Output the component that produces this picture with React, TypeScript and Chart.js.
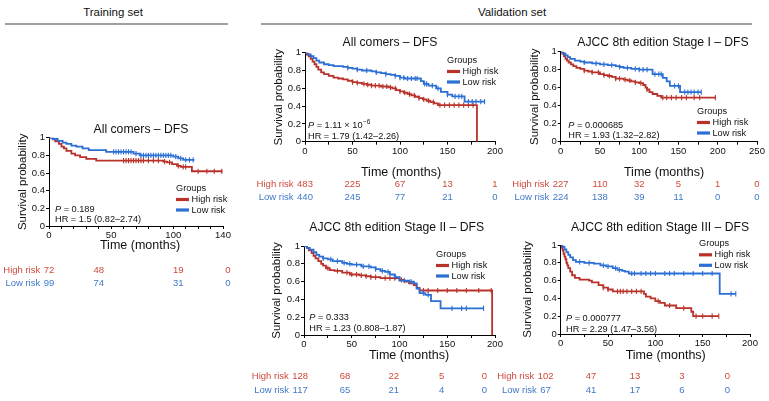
import React, { useEffect, useRef } from 'react';
import { Chart, registerables } from 'chart.js';

Chart.register(...registerables);

type Step = [number, number];

const FONT = '"Liberation Sans", Arial, Helvetica, sans-serif';
const RED = '#b8322a';
const BLUE = '#2b6fd4';
const RED_TXT = '#d04a3c';
const BLUE_TXT = '#4079c8';

// ---------- tick labels ----------
const yTicks = [0, 0.2, 0.4, 0.6, 0.8, 1];
const xTicksTrain = [0, 50, 100, 140];
const xMarksTrain = [0, 10, 20, 30, 40, 50, 60, 70, 80, 90, 100, 110, 120, 130, 140];
const xTicks200 = [0, 50, 100, 150, 200];
const xMarks200 = [0, 25, 50, 75, 100, 125, 150, 175, 200];
const xTicks250 = [0, 50, 100, 150, 200, 250];
const xMarks250 = [0, 25, 50, 75, 100, 125, 150, 175, 200, 225, 250];

// ---------- Training set: All comers ----------
const trainHigh: Step[] = [[0, 1], [3, 0.98], [5, 0.96], [8, 0.93], [10, 0.9], [12, 0.88], [14, 0.85], [18, 0.82], [21, 0.8], [25, 0.78], [30, 0.76], [38, 0.74], [92, 0.73], [95, 0.72], [99, 0.7], [103, 0.68], [106, 0.67], [115, 0.62], [139.5, 0.62]];
const trainHighCens = [60, 62, 64, 66, 68, 70, 72, 74, 76, 80, 84, 88, 93, 97, 104, 108, 110, 120, 127, 133, 139];
const trainLow: Step[] = [[0, 1], [3, 0.985], [7, 0.965], [11, 0.945], [14, 0.93], [18, 0.91], [22, 0.9], [27, 0.88], [32, 0.86], [46, 0.84], [68, 0.82], [73, 0.8], [100, 0.785], [104, 0.765], [108, 0.75], [117, 0.75]];
const trainLowCens = [52, 54, 56, 58, 60, 62, 64, 66, 70, 74, 76, 78, 80, 82, 84, 86, 88, 90, 92, 94, 96, 98, 102, 106, 110, 113, 116];
const trainRiskHigh = [72, 48, 19, 0];
const trainRiskLow = [99, 74, 31, 0];
const trainRiskAt = [0, 40, 104, 144];

// ---------- Validation: All comers ----------
const allHigh: Step[] = [[0, 1], [2, 0.98], [4, 0.96], [6, 0.93], [8, 0.9], [10, 0.87], [12, 0.84], [14, 0.81], [17, 0.78], [20, 0.76], [25, 0.74], [30, 0.72], [35, 0.71], [40, 0.7], [45, 0.685], [50, 0.67], [55, 0.66], [60, 0.65], [65, 0.64], [70, 0.63], [80, 0.62], [88, 0.61], [92, 0.6], [96, 0.58], [100, 0.565], [104, 0.55], [108, 0.535], [112, 0.52], [116, 0.505], [120, 0.49], [124, 0.475], [128, 0.46], [132, 0.445], [136, 0.43], [140, 0.41], [181, 0.41], [181, 0]];
const allHighCens = [50, 55, 62, 66, 70, 74, 78, 82, 86, 90, 95, 100, 105, 110, 115, 120, 125, 130, 135, 142, 147, 152, 157, 162, 167, 172, 177];
const allLow: Step[] = [[0, 1], [3, 0.98], [6, 0.96], [9, 0.94], [12, 0.91], [15, 0.89], [20, 0.87], [25, 0.86], [30, 0.85], [40, 0.84], [45, 0.83], [50, 0.82], [55, 0.81], [60, 0.8], [70, 0.79], [75, 0.78], [80, 0.77], [85, 0.76], [90, 0.75], [95, 0.74], [100, 0.72], [105, 0.71], [120, 0.71], [122, 0.68], [125, 0.65], [130, 0.63], [138, 0.6], [143, 0.56], [150, 0.53], [155, 0.51], [168, 0.45], [189, 0.45]];
const allLowCens = [45, 55, 65, 75, 85, 95, 100, 104, 108, 112, 116, 118, 126, 128, 134, 140, 150, 158, 162, 165, 172, 176, 180, 185, 189];
const allRiskHigh = [483, 225, 67, 13, 1];
const allRiskLow = [440, 245, 77, 21, 0];
const allRiskAt = [0, 50, 100, 150, 200];

// ---------- Validation: Stage I ----------
const s1High: Step[] = [[0, 1], [2, 0.98], [4, 0.95], [6, 0.92], [8, 0.9], [10, 0.88], [13, 0.86], [16, 0.84], [20, 0.82], [25, 0.81], [30, 0.79], [35, 0.78], [40, 0.77], [50, 0.75], [55, 0.74], [60, 0.73], [65, 0.72], [70, 0.7], [80, 0.69], [85, 0.68], [90, 0.67], [95, 0.66], [100, 0.65], [105, 0.63], [108, 0.6], [110, 0.58], [113, 0.55], [117, 0.53], [123, 0.51], [128, 0.49], [197, 0.49]];
const s1HighCens = [30, 40, 48, 55, 62, 70, 75, 82, 88, 95, 102, 110, 130, 135, 141, 147, 154, 160, 170, 177, 197];
const s1Low: Step[] = [[0, 1], [3, 0.98], [6, 0.96], [9, 0.94], [12, 0.92], [18, 0.9], [25, 0.89], [30, 0.88], [40, 0.87], [50, 0.86], [60, 0.85], [70, 0.84], [75, 0.83], [80, 0.82], [90, 0.81], [100, 0.8], [115, 0.8], [117, 0.75], [130, 0.71], [135, 0.67], [139, 0.62], [152, 0.55], [179, 0.55]];
const s1LowCens = [30, 45, 55, 65, 75, 85, 95, 100, 105, 110, 120, 125, 128, 145, 150, 158, 162, 166, 170, 175, 179];
const s1RiskHigh = [227, 110, 32, 5, 1, 0];
const s1RiskLow = [224, 138, 39, 11, 0, 0];
const s1RiskAt = [0, 50, 100, 150, 200, 250];

// ---------- Validation: Stage II ----------
const s2High: Step[] = [[0, 1], [3, 0.98], [5, 0.95], [8, 0.92], [10, 0.89], [12, 0.86], [15, 0.83], [18, 0.8], [20, 0.78], [23, 0.75], [27, 0.73], [32, 0.72], [40, 0.7], [48, 0.68], [58, 0.67], [65, 0.66], [70, 0.65], [80, 0.64], [95, 0.64], [100, 0.62], [105, 0.6], [110, 0.58], [115, 0.56], [118, 0.53], [121, 0.5], [197, 0.5], [197, 0]];
const s2HighCens = [25, 35, 45, 50, 55, 60, 65, 70, 75, 85, 90, 95, 102, 125, 130, 140, 150, 160, 170, 183, 196];
const s2Low: Step[] = [[0, 1], [3, 0.98], [6, 0.96], [10, 0.93], [13, 0.9], [16, 0.88], [20, 0.86], [25, 0.85], [30, 0.83], [40, 0.81], [45, 0.8], [50, 0.79], [60, 0.77], [70, 0.76], [75, 0.74], [80, 0.72], [85, 0.71], [90, 0.68], [95, 0.65], [100, 0.61], [110, 0.6], [115, 0.58], [118, 0.52], [121, 0.47], [127, 0.45], [133, 0.38], [143, 0.3], [188, 0.3]];
const s2LowCens = [20, 28, 35, 42, 48, 55, 62, 68, 75, 82, 88, 96, 105, 112, 125, 130, 155, 165, 170, 188];
const s2RiskHigh = [128, 68, 22, 5, 0];
const s2RiskLow = [117, 65, 21, 4, 0];
const s2RiskAt = [-4, 43, 94, 144, 189];

// ---------- Validation: Stage III ----------
const s3High: Step[] = [[0, 1], [1, 0.97], [2, 0.94], [3, 0.9], [4, 0.87], [5, 0.84], [6, 0.8], [7, 0.77], [8, 0.74], [10, 0.7], [12, 0.66], [15, 0.63], [20, 0.61], [30, 0.6], [33, 0.58], [40, 0.55], [45, 0.52], [50, 0.5], [55, 0.48], [86, 0.48], [88, 0.45], [90, 0.42], [95, 0.4], [100, 0.37], [105, 0.35], [110, 0.32], [122, 0.29], [138, 0.25], [140, 0.2], [167, 0.2]];
const s3HighCens = [45, 50, 60, 63, 66, 70, 75, 80, 85, 103, 115, 130, 143, 150, 160, 167];
const s3Low: Step[] = [[0, 1], [2, 0.98], [4, 0.95], [6, 0.92], [8, 0.89], [10, 0.86], [13, 0.83], [16, 0.81], [25, 0.8], [35, 0.79], [42, 0.77], [48, 0.76], [55, 0.74], [60, 0.72], [65, 0.71], [68, 0.7], [72, 0.68], [168, 0.45], [185, 0.45]];
const s3LowCens = [20, 30, 45, 50, 58, 62, 75, 78, 85, 90, 95, 100, 110, 115, 120, 130, 140, 150, 160, 180, 185];
const s3RiskHigh = [102, 47, 13, 3, 0];
const s3RiskLow = [67, 41, 17, 6, 0];
const s3RiskAt = [-16, 32, 78.5, 128, 176];

type Rect = { left: number; top: number; width: number; height: number };
type Area = { left: number; top: number; right: number; bottom: number };
type Panel = {
  key: string;
  canvas: Rect;
  area: Area;
  xMax: number;
  xTicks: number[];
  xMarks: number[];
  high: Step[]; highCens: number[];
  low: Step[]; lowCens: number[];
  riskHigh: number[]; riskLow: number[]; riskAt: number[];
  title: string; titleX: number; titleY: number;
  yTitleX: number; xTitleX: number; xTitleY: number;
  legX: number; legY: number;
  statX: number; statY: number;
  pVal: string; pExp?: string; hr: string;
  riskY1: number; riskY2: number;
};

const PANELS: Panel[] = [
  {
    key: 'train', canvas: { left: 0, top: 118, width: 240, height: 180 },
    area: { left: 49, top: 137.7, right: 223, bottom: 226 }, xMax: 140, xTicks: xTicksTrain, xMarks: xMarksTrain,
    high: trainHigh, highCens: trainHighCens, low: trainLow, lowCens: trainLowCens,
    riskHigh: trainRiskHigh, riskLow: trainRiskLow, riskAt: trainRiskAt,
    title: 'All comers – DFS', titleX: 141, titleY: 130,
    yTitleX: 22.5, xTitleX: 140, xTitleY: 246,
    legX: 176, legY: 188, statX: 55, statY: 209,
    pVal: ' = 0.189', hr: 'HR = 1.5 (0.82–2.74)', riskY1: 270, riskY2: 283,
  },
  {
    key: 'all', canvas: { left: 250, top: 28, width: 262, height: 180 },
    area: { left: 305, top: 52.7, right: 495, bottom: 141.7 }, xMax: 200, xTicks: xTicks200, xMarks: xMarks200,
    high: allHigh, highCens: allHighCens, low: allLow, lowCens: allLowCens,
    riskHigh: allRiskHigh, riskLow: allRiskLow, riskAt: allRiskAt,
    title: 'All comers – DFS', titleX: 390, titleY: 43,
    yTitleX: 279.3, xTitleX: 401, xTitleY: 173,
    legX: 447, legY: 60, statX: 308, statY: 125.7,
    pVal: ' = 1.11 × 10', pExp: '−6', hr: 'HR = 1.79 (1.42–2.26)', riskY1: 184, riskY2: 197,
  },
  {
    key: 's1', canvas: { left: 505, top: 28, width: 264, height: 180 },
    area: { left: 560.7, top: 51.7, right: 757, bottom: 141.7 }, xMax: 250, xTicks: xTicks250, xMarks: xMarks250,
    high: s1High, highCens: s1HighCens, low: s1Low, lowCens: s1LowCens,
    riskHigh: s1RiskHigh, riskLow: s1RiskLow, riskAt: s1RiskAt,
    title: 'AJCC 8th edition Stage I – DFS', titleX: 663, titleY: 43,
    yTitleX: 535, xTitleX: 664, xTitleY: 173,
    legX: 697, legY: 111, statX: 568.3, statY: 125,
    pVal: ' = 0.000685', hr: 'HR = 1.93 (1.32–2.82)', riskY1: 184, riskY2: 197,
  },
  {
    key: 's2', canvas: { left: 250, top: 215, width: 262, height: 186 },
    area: { left: 304, top: 246, right: 495, bottom: 335 }, xMax: 200, xTicks: xTicks200, xMarks: xMarks200,
    high: s2High, highCens: s2HighCens, low: s2Low, lowCens: s2LowCens,
    riskHigh: s2RiskHigh, riskLow: s2RiskLow, riskAt: s2RiskAt,
    title: 'AJCC 8th edition Stage II – DFS', titleX: 396.7, titleY: 228,
    yTitleX: 276.7, xTitleX: 409, xTitleY: 356,
    legX: 436, legY: 254, statX: 309.3, statY: 317.3,
    pVal: ' = 0.333', hr: 'HR = 1.23 (0.808–1.87)', riskY1: 376.7, riskY2: 390.7,
  },
  {
    key: 's3', canvas: { left: 495, top: 215, width: 274, height: 186 },
    area: { left: 560.7, top: 245, right: 750, bottom: 334 }, xMax: 200, xTicks: xTicks200, xMarks: xMarks200,
    high: s3High, highCens: s3HighCens, low: s3Low, lowCens: s3LowCens,
    riskHigh: s3RiskHigh, riskLow: s3RiskLow, riskAt: s3RiskAt,
    title: 'AJCC 8th edition Stage III – DFS', titleX: 660, titleY: 228,
    yTitleX: 528.3, xTitleX: 665.7, xTitleY: 356,
    legX: 699, legY: 243.3, statX: 566, statY: 318.3,
    pVal: ' = 0.000777', hr: 'HR = 2.29 (1.47–3.56)', riskY1: 376.7, riskY2: 390.7,
  },
];

function valueAt(steps: Step[], t: number): number {
  let v = steps[0][1];
  for (const [x, y] of steps) {
    if (x <= t) v = y;
    else break;
  }
  return v;
}

const f = (size: number, italic = false) => `${italic ? 'italic ' : ''}${size}px ${FONT}`;

function KMPanel({ p }: { p: Panel }) {
  const ref = useRef<HTMLCanvasElement>(null);
  useEffect(() => {
    const c = ref.current!;
    const ox = p.canvas.left;
    const oy = p.canvas.top;
    const xAxisH = 20;
    const yAxisW = p.area.left - ox;
    const padTop = p.area.top - oy;
    const padRight = ox + p.canvas.width - p.area.right;
    const padBottom = oy + p.canvas.height - p.area.bottom - xAxisH;

    const curve = (steps: Step[], color: string) => ({
      type: 'line',
      data: steps.map(([x, y]) => ({ x, y })),
      borderColor: color,
      backgroundColor: color,
      borderWidth: 1.8,
      pointRadius: 0,
      stepped: 'before',
      fill: false,
    });
    const cens = (steps: Step[], times: number[], color: string) => ({
      type: 'line',
      showLine: false,
      data: times.map((t) => ({ x: t, y: valueAt(steps, t) })),
      pointStyle: 'line',
      rotation: 90,
      pointRadius: 2.6,
      borderColor: color,
      backgroundColor: color,
      pointBorderWidth: 1.1,
      borderWidth: 1.1,
    });

    const textPlugin = {
      id: 'kmText_' + p.key,
      afterDraw(chart: any) {
        const ctx = chart.ctx as CanvasRenderingContext2D;
        const ca = chart.chartArea;
        const xs = chart.scales.x;
        const X = (v: number) => v - ox;
        const Y = (v: number) => v - oy;
        ctx.save();
        ctx.textBaseline = 'middle';
        ctx.fillStyle = '#111';
        // title
        ctx.font = f(12.2);
        ctx.textAlign = 'center';
        ctx.fillText(p.title, X(p.titleX), Y(p.titleY));
        // y title
        ctx.save();
        ctx.translate(X(p.yTitleX), (ca.top + ca.bottom) / 2);
        ctx.rotate(-Math.PI / 2);
        ctx.font = f(11.5);
        ctx.fillText('Survival probability', 0, 0);
        ctx.restore();
        // x title
        ctx.font = f(12.5);
        ctx.fillText('Time (months)', X(p.xTitleX), Y(p.xTitleY));
        // legend
        ctx.textAlign = 'left';
        ctx.font = f(9.2);
        ctx.fillStyle = '#111';
        ctx.fillText('Groups', X(p.legX), Y(p.legY));
        const rows: [string, string, number][] = [['High risk', RED, 11.5], ['Low risk', BLUE, 22]];
        for (const [lab, col, dy] of rows) {
          ctx.strokeStyle = col;
          ctx.lineWidth = 3.2;
          ctx.beginPath();
          ctx.moveTo(X(p.legX), Y(p.legY + dy));
          ctx.lineTo(X(p.legX + 13), Y(p.legY + dy));
          ctx.stroke();
          ctx.fillStyle = '#111';
          ctx.fillText(lab, X(p.legX + 15.5), Y(p.legY + dy));
        }
        // stats
        let sx = X(p.statX);
        const sy = Y(p.statY);
        ctx.font = f(9.2, true);
        ctx.fillText('P', sx, sy);
        sx += ctx.measureText('P').width;
        ctx.font = f(9.2);
        ctx.fillText(p.pVal, sx, sy);
        sx += ctx.measureText(p.pVal).width;
        if (p.pExp) {
          ctx.font = f(6.5);
          ctx.fillText(p.pExp, sx + 0.5, sy - 3.5);
        }
        ctx.font = f(9.2);
        ctx.fillText(p.hr, X(p.statX), Y(p.statY + 10.7));
        // risk table
        ctx.font = f(9.5);
        const table: [string, number[], string, number][] = [
          ['High risk', p.riskHigh, RED_TXT, p.riskY1],
          ['Low risk', p.riskLow, BLUE_TXT, p.riskY2],
        ];
        for (const [lab, vals, col, ry] of table) {
          ctx.fillStyle = col;
          ctx.textAlign = 'center';
          vals.forEach((v, i) => {
            ctx.fillText(String(v), xs.getPixelForValue(p.riskAt[i]), Y(ry));
          });
          const x0 = xs.getPixelForValue(p.riskAt[0]);
          const w0 = ctx.measureText(String(vals[0])).width;
          ctx.textAlign = 'right';
          ctx.fillText(lab, x0 - w0 / 2 - 3.5, Y(ry));
        }
        ctx.restore();
      },
    };

    const axisCommon = {
      grid: { display: true, drawOnChartArea: false, drawTicks: true, tickLength: 3, color: '#000', lineWidth: 1 },
      border: { display: true, color: '#000', width: 1 },
    };

    const chart = new Chart(c, {
      type: 'line',
      data: {
        datasets: [
          curve(p.low, BLUE),
          cens(p.low, p.lowCens, BLUE),
          curve(p.high, RED),
          cens(p.high, p.highCens, RED),
        ] as any,
      },
      options: {
        responsive: false,
        animation: false,
        devicePixelRatio: 1,
        layout: { padding: { left: 0, top: padTop, right: padRight, bottom: padBottom } },
        plugins: { legend: { display: false }, tooltip: { enabled: false }, title: { display: false } },
        scales: {
          x: {
            type: 'linear',
            min: 0,
            max: p.xMax,
            ...axisCommon,
            afterBuildTicks: (s: any) => { s.ticks = p.xMarks.map((v) => ({ value: v })); },
            afterFit: (s: any) => { s.height = xAxisH; },
            ticks: {
              font: { family: FONT, size: 9.5 },
              color: '#111',
              padding: 1,
              maxRotation: 0,
              autoSkip: false,
              callback: (v: any) => (p.xTicks.includes(Number(v)) ? String(v) : ''),
            },
          },
          y: {
            type: 'linear',
            min: 0,
            max: 1,
            ...axisCommon,
            afterBuildTicks: (s: any) => { s.ticks = yTicks.map((v) => ({ value: v })); },
            afterFit: (s: any) => { s.width = yAxisW; },
            ticks: {
              font: { family: FONT, size: 9.5 },
              color: '#111',
              padding: 1,
              autoSkip: false,
              callback: (v: any) => (v === 0 ? '0' : v === 1 ? '1' : Number(v).toFixed(1)),
            },
          },
        },
      } as any,
      plugins: [textPlugin],
    });
    return () => chart.destroy();
  }, [p]);
  return (
    <canvas
      ref={ref}
      width={p.canvas.width}
      height={p.canvas.height}
      style={{ position: 'absolute', left: p.canvas.left, top: p.canvas.top, width: p.canvas.width, height: p.canvas.height }}
    />
  );
}

export default function App() {
  const header = (text: string, cx: number) => (
    <div style={{ position: 'absolute', left: cx - 60, top: 4, width: 120, textAlign: 'center', font: `11.5px ${FONT}`, color: '#111', lineHeight: '16px' }}>{text}</div>
  );
  return (
    <div style={{ position: 'absolute', left: 0, top: 0, width: 769, height: 401, background: '#fff', overflow: 'hidden' }}>
      {header('Training set', 113)}
      {header('Validation set', 512)}
      <div style={{ position: 'absolute', left: 5, top: 23, width: 223, height: 1.5, background: '#a0a0a0' }} />
      <div style={{ position: 'absolute', left: 261, top: 23, width: 491, height: 1.5, background: '#a0a0a0' }} />
      {PANELS.map((p) => <KMPanel key={p.key} p={p} />)}
    </div>
  );
}
